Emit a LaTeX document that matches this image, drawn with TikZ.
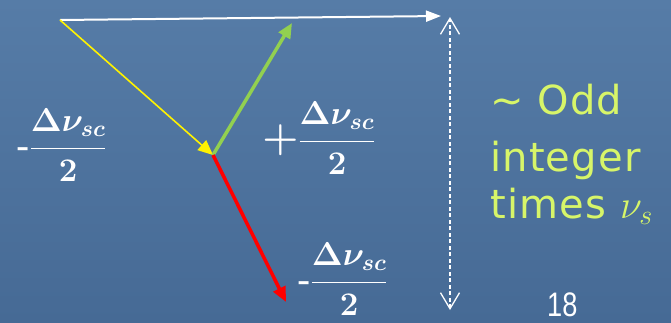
\RequirePackage{fix-cm}
\documentclass[tikz,border=0pt]{standalone}
\usepackage{fontspec}
\usetikzlibrary{arrows.meta}
\newfontfamily\handfont[LetterSpace=3]{DejaVu Sans}
\newfontfamily\numfont{Liberation Sans}
\definecolor{bgtop}{RGB}{86,124,167}
\definecolor{bgbot}{RGB}{70,106,149}
\definecolor{lbl}{RGB}{215,245,105}
\definecolor{grn}{RGB}{146,208,80}
\begin{document}
\begin{tikzpicture}[x=1pt,y=-1pt,
  lab/.style={text=white,inner sep=0pt,font=\fontsize{33}{40}\selectfont\boldmath},
  side/.style={text=lbl,inner sep=0pt,anchor=base west,font=\handfont\fontsize{40}{48}\selectfont},
  wtip/.style={-{Triangle[length=15pt,width=11pt]}},
  ctip/.style={-{Triangle[length=15pt,width=13pt]}},
  vtip/.style={{Straight Barb[length=16pt,width=19pt]}-{Straight Barb[length=16pt,width=19pt]}}
]
\shade[top color=bgtop,bottom color=bgbot] (0,0) rectangle (671,322);
\useasboundingbox (0,0) rectangle (671,322);
\coordinate (O) at (60,20);
\coordinate (J) at (213,155);
\coordinate (W) at (441,16);
\coordinate (G) at (292,23);
\coordinate (R) at (286,302);
\coordinate (Dt) at (450,17);
\coordinate (Db) at (450,310);
\draw[white,line width=2pt,wtip] (O) -- (W);
\draw[yellow,line width=1.6pt,ctip] (O) -- (J);
\draw[grn,line width=3.5pt,ctip] (J) -- (G);
\draw[red,line width=3.5pt,ctip] (J) -- (R);
\draw[white,line width=1.3pt,dash pattern=on 4pt off 2.5pt,vtip] (Db) -- (Dt);
\node[lab] (fl) at (62,145) {\textbf{-}$\displaystyle\frac{\Delta\nu_{sc}}{2}$};
\node[lab] (fm) at (319,138) {\raisebox{-1pt}{\scalebox{1.25}{$+$}}$\displaystyle\frac{\Delta\nu_{sc}}{2}$};
\node[lab] (fb) at (343,279) {\textbf{-}$\displaystyle\frac{\Delta\nu_{sc}}{2}$};
\node[side] (t1) at (490,114) {\textasciitilde{} Odd};
\node[side] (t2) at (490,171) {integer};
\node[side] (t3) at (490,218) {times $\nu_s$};
\node[text=white,inner sep=0pt,anchor=base west,font=\numfont\fontsize{34}{40}\selectfont] (pg) at (547,316) {\scalebox{0.8}[1]{18}};
\end{tikzpicture}
\end{document}
